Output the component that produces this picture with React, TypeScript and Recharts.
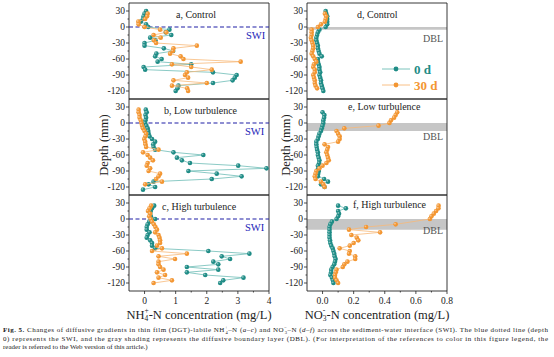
import React from "react";
import { ScatterChart, Scatter, XAxis, YAxis, ReferenceLine, ReferenceArea } from "recharts";

const SERIF = "'Liberation Serif', 'Times New Roman', serif";
const TEAL = "#1f8c86";
const TEAL_LINE = "#6dbdb6";
const ORANGE = "#f39632";
const ORANGE_LINE = "#f8b978";

// depth (mm) of each DGT slice
const depths = [30, 25, 20, 15, 10, 5, 0, -5, -10, -15, -20, -25, -30, -35, -40, -45, -50, -55, -60, -65, -70, -75, -80, -85, -90, -95, -100, -105, -110, -115, -120, -125];

// NH4+-N (mg/L)
const aNH0 = [0.05, 0.0, -0.03, -0.05, -0.12, 0.05, 0.12, 0.8, 0.68, 0.86, 0.18, 0.35, 0.0, 0.0, 0.62, 0.92, 0.38, 0.34, 0.55, 0.42, 1.5, -0.03, 0.02, 2.2, 2.96, 2.9, 2.83, 2.2, 1.09, 1.06, 1.0, null];
const aNH30 = [null, 0.1, 0.08, 0.02, -0.2, -0.19, 0.0, 0.5, 0.7, 0.29, 0.52, 0.3, 0.37, 1.68, 0.93, 0.91, 0.82, 1.16, 1.25, 3.09, 0.88, 1.5, 2.16, 1.36, 1.3, 1.4, 0.93, 2.0, 0.88, 1.37, 1.4, null];
const bNH0 = [null, 0.04, 0.07, 0.03, 0.05, 0.03, 0.02, 0.06, 0.1, 0.12, 0.13, 0.16, 0.24, 0.34, 0.28, 0.29, 0.34, 0.93, 1.89, 1.04, 1.2, 1.46, 3.01, 3.92, 1.41, 2.32, 3.12, 2.16, 0.29, 0.13, 0.34, -0.05];
const bNH30 = [null, -0.19, -0.19, -0.16, -0.16, -0.12, -0.1, -0.08, -0.05, 0.0, 0.05, 0.03, -0.01, 0.02, 0.03, 0.05, 0.45, -0.05, 0.1, 0.18, 0.27, 0.1, 0.07, 0.18, 0.13, 0.5, 0.45, 0.37, 0.56, 0.02, null, null];
const cNH0 = [null, 0.31, 0.24, 0.2, 0.18, 0.2, 0.34, 0.15, 0.1, 0.07, 0.07, 0.16, 0.1, 0.07, 0.18, 0.24, 0.24, 0.34, 2.05, 3.37, 2.48, 2.75, 2.21, 2.37, 1.36, 2.37, 1.36, 1.95, 3.18, 2.53, 2.43, null];
const cNH30 = [null, 0.21, 0.16, 0.11, 0.18, 0.15, 0.2, 0.24, 0.3, 0.35, 0.4, 0.34, 0.45, 0.48, 0.5, 0.5, 0.4, 0.56, 0.24, 1.36, 0.45, 0.98, 0.45, 0.45, 0.5, 0.61, 0.4, 0.66, 0.45, 0.88, 0.29, null];

// NO3--N (mg/L)
const dNO0 = [0.02, 0.024, 0.03, 0.03, 0.03, 0.03, 0.02, -0.02, -0.03, -0.035, -0.04, -0.04, -0.035, -0.03, -0.03, -0.025, -0.02, -0.005, -0.03, -0.03, -0.025, -0.02, -0.02, -0.015, -0.02, -0.015, -0.01, -0.01, -0.005, 0.0, 0.005, null];
const dNO30 = [null, 0.015, 0.024, 0.02, 0.015, -0.01, -0.03, -0.07, -0.07, -0.07, -0.075, -0.07, -0.065, -0.06, -0.06, -0.065, -0.07, -0.06, -0.05, -0.04, -0.055, -0.06, -0.05, -0.05, -0.06, -0.055, -0.05, -0.05, -0.045, -0.035, null, null];
const eNO0 = [null, null, 0.0, 0.012, 0.01, 0.005, 0.005, 0.0, -0.005, -0.01, -0.02, -0.025, -0.03, -0.04, -0.04, -0.038, -0.035, -0.03, -0.03, -0.025, -0.02, -0.022, -0.03, -0.028, -0.024, -0.028, -0.03, 0.01, 0.035, -0.01, 0.013, null];
const eNO30 = [null, null, 0.48, 0.47, 0.46, 0.44, 0.43, 0.36, 0.14, 0.09, 0.1, 0.11, 0.11, 0.1, 0.013, 0.035, 0.03, 0.024, 0.03, 0.035, 0.04, 0.025, 0.0, -0.02, -0.04, -0.045, -0.05, -0.045, -0.01, 0.005, 0.013, null];
const fNO0 = [null, 0.1, 0.15, 0.1, 0.106, 0.1, 0.09, 0.06, 0.05, 0.045, 0.045, 0.045, 0.045, 0.045, 0.048, 0.05, 0.056, 0.065, 0.07, 0.075, 0.078, 0.084, 0.08, 0.075, 0.065, 0.056, 0.055, 0.05, 0.06, 0.067, 0.07, null];
const fNO30 = [null, 0.746, 0.745, 0.73, 0.715, 0.7, 0.69, null, 0.47, 0.28, 0.17, 0.37, 0.185, 0.22, 0.23, 0.2, 0.175, 0.11, 0.175, 0.17, 0.21, 0.21, 0.16, 0.14, 0.13, 0.09, 0.085, 0.08, 0.08, 0.09, 0.1, null];

const yTicks = [-120, -105, -90, -75, -60, -45, -30, -15, 0, 15, 30];
const nhTicks = [0, 0.5, 1, 1.5, 2, 2.5, 3, 3.5, 4];
const nhMajor = [0, 1, 2, 3, 4];
const noTicks = [0, 0.1, 0.2, 0.3, 0.4, 0.5, 0.6, 0.7, 0.8];
const noMajor = [0, 0.2, 0.4, 0.6, 0.8];

const toPoints = (vals: (number | null)[]) =>
  depths.map((d, i) => ({ x: vals[i], y: d })).filter((p) => p.x !== null);

const dot = (color: string) => (p: any) => (
  <g>
    <circle cx={p.cx} cy={p.cy} r={2.3} fill={color} />
    <circle cx={p.cx - 0.7} cy={p.cy - 0.7} r={0.9} fill="#fff" opacity={0.45} />
  </g>
);

const YTick = (p: any) => {
  const v = p.payload.value;
  const major = v % 30 === 0;
  return (
    <g>
      <line x1={p.x - (major ? 3 : 1.5)} x2={p.x} y1={p.y} y2={p.y} stroke="#222" strokeWidth={0.8} />
      {major && (
        <text x={p.x - 4} y={p.y + 3.3} textAnchor="end" fontSize={9.5} fontFamily={SERIF} fill="#222">
          {v}
        </text>
      )}
    </g>
  );
};

type PanelProps = {
  left: number;
  top: number;
  domain: [number, number];
  ticks: number[];
  major: number[];
  fmt: (v: number) => string;
  s0: (number | null)[];
  s30: (number | null)[];
  labels?: boolean;
  swi?: boolean;
  dbl?: number;
};

function Panel({ left, top, domain, ticks, major, fmt, s0, s30, labels, swi, dbl }: PanelProps) {
  const xTick = (p: any) => {
    const v = p.payload.value;
    const isMajor = major.some((m) => Math.abs(m - v) < 1e-6);
    return (
      <g>
        <line x1={p.x} x2={p.x} y1={p.y} y2={p.y + (isMajor ? 3 : 1.5)} stroke="#222" strokeWidth={0.8} />
        {labels && isMajor && (
          <text x={p.x} y={p.y + 13} textAnchor="middle" fontSize={9.5} fontFamily={SERIF} fill="#222">
            {fmt(v)}
          </text>
        )}
      </g>
    );
  };
  return (
    <div style={{ position: "absolute", left, top }}>
      <ScatterChart width={170} height={96 + (labels ? 18 : 0)} margin={{ top: 0, right: 0, bottom: 0, left: 0 }}>
        <XAxis
          type="number"
          dataKey="x"
          domain={domain}
          ticks={ticks}
          interval={0}
          allowDataOverflow
          axisLine={false}
          tickSize={0}
          tickMargin={0}
          height={labels ? 18 : 0}
          tick={xTick}
        />
        <YAxis
          type="number"
          dataKey="y"
          domain={[-135, 45]}
          ticks={yTicks}
          interval={0}
          allowDataOverflow
          axisLine={false}
          tickSize={0}
          tickMargin={0}
          width={30}
          tick={YTick}
        />
        {dbl !== undefined && (
          <ReferenceArea x1={domain[0]} x2={domain[1]} y1={dbl} y2={0} fill="#c6c6c6" fillOpacity={1} stroke="none" />
        )}
        {swi && <ReferenceLine y={0} stroke="#1f1fa6" strokeWidth={1.1} strokeDasharray="4 2.5" />}
        <Scatter
          data={toPoints(s0)}
          line={{ stroke: TEAL_LINE, strokeWidth: 0.8 }}
          lineType="joint"
          shape={dot(TEAL)}
          isAnimationActive={false}
        />
        <Scatter
          data={toPoints(s30)}
          line={{ stroke: ORANGE_LINE, strokeWidth: 0.8 }}
          lineType="joint"
          shape={dot(ORANGE)}
          isAnimationActive={false}
        />
        <ReferenceArea x1={domain[0]} x2={domain[1]} y1={-135} y2={45} fill="none" stroke="#222" strokeWidth={0.9} />
      </ScatterChart>
    </div>
  );
}

const txt = (left: number, top: number, text: string, extra: React.CSSProperties = {}) => (
  <div style={{ position: "absolute", left, top, fontFamily: SERIF, fontSize: 10, color: "#222", whiteSpace: "nowrap", lineHeight: 1, ...extra }}>
    {text}
  </div>
);

const stack = (sup: string, sub: string) => (
  <span style={{ display: "inline-block", verticalAlign: "-2px", fontSize: 7.5, lineHeight: "7.5px", textAlign: "left" }}>
    <span style={{ display: "block" }}>{sup}</span>
    <span style={{ display: "block" }}>{sub}</span>
  </span>
);

export default function App() {
  const nhFmt = (v: number) => String(v);
  const noFmt = (v: number) => v.toFixed(1);
  const depthStyle: React.CSSProperties = {
    position: "absolute",
    top: 145,
    transform: "translate(-50%,-50%) rotate(-90deg)",
    fontFamily: SERIF,
    fontSize: 12.5,
    whiteSpace: "nowrap",
    color: "#222",
  };
  const xTitle: React.CSSProperties = {
    position: "absolute",
    width: 200,
    top: 307,
    textAlign: "center",
    fontFamily: SERIF,
    fontSize: 12.5,
    color: "#222",
    whiteSpace: "nowrap",
  };
  return (
    <div style={{ position: "absolute", left: 0, top: 0, width: 554, height: 357, background: "#fff", overflow: "hidden" }}>
      <style>{`.recharts-surface{overflow:visible}`}</style>

      <Panel left={99} top={3} domain={[-0.5, 4]} ticks={nhTicks} major={nhMajor} fmt={nhFmt} s0={aNH0} s30={aNH30} swi />
      <Panel left={99} top={99} domain={[-0.5, 4]} ticks={nhTicks} major={nhMajor} fmt={nhFmt} s0={bNH0} s30={bNH30} swi />
      <Panel left={99} top={195} domain={[-0.5, 4]} ticks={nhTicks} major={nhMajor} fmt={nhFmt} s0={cNH0} s30={cNH30} swi labels />
      <Panel left={277} top={3} domain={[-0.1, 0.8]} ticks={noTicks} major={noMajor} fmt={noFmt} s0={dNO0} s30={dNO30} dbl={-5} />
      <Panel left={277} top={99} domain={[-0.1, 0.8]} ticks={noTicks} major={noMajor} fmt={noFmt} s0={eNO0} s30={eNO30} dbl={-15} />
      <Panel left={277} top={195} domain={[-0.1, 0.8]} ticks={noTicks} major={noMajor} fmt={noFmt} s0={fNO0} s30={fNO30} dbl={-20} labels />

      {txt(176, 10, "a, Control")}
      {txt(164, 106, "b, Low turbulence")}
      {txt(162, 202, "c, High turbulence")}
      {txt(357, 10, "d, Control")}
      {txt(348, 102, "e, Low turbulence")}
      {txt(353, 200, "f, High turbulence")}

      {txt(246, 31, "SWI", { color: "#2424b8", fontSize: 10.5 })}
      {txt(245, 127, "SWI", { color: "#2424b8", fontSize: 10.5 })}
      {txt(245, 223, "SWI", { color: "#2424b8", fontSize: 10.5 })}
      {txt(423, 34, "DBL", { color: "#555" })}
      {txt(423, 132, "DBL", { color: "#555" })}
      {txt(423, 226, "DBL", { color: "#555" })}

      <svg style={{ position: "absolute", left: 378, top: 60 }} width={36} height={32}>
        <line x1={4} x2={32} y1={9} y2={9} stroke={TEAL_LINE} strokeWidth={0.9} />
        <circle cx={18} cy={9} r={2.4} fill={TEAL} />
        <line x1={4} x2={32} y1={25} y2={25} stroke={ORANGE_LINE} strokeWidth={0.9} />
        <circle cx={18} cy={25} r={2.4} fill={ORANGE} />
      </svg>
      {txt(414, 63, "0 d", { color: TEAL, fontSize: 13, fontWeight: "bold" })}
      {txt(414, 79, "30 d", { color: ORANGE, fontSize: 13, fontWeight: "bold" })}

      <div style={{ ...depthStyle, left: 104 }}>Depth (mm)</div>
      <div style={{ ...depthStyle, left: 286 }}>Depth (mm)</div>

      <div style={{ ...xTitle, left: 99 }}>
        NH{stack("+", "4")}-N concentration (mg/L)
      </div>
      <div style={{ ...xTitle, left: 277 }}>
        NO{stack("-", "3")}-N concentration (mg/L)
      </div>

      <svg style={{ position: "absolute", left: 0, top: 320 }} width={554} height={37}>
        <text x={3} y={11.5} fontSize={7} fontFamily={SERIF} fill="#222" textLength={545} lengthAdjust="spacing">
          <tspan fontWeight="bold">Fig. 5.</tspan>
          {" Changes of diffusive gradients in thin film (DGT)-labile NH"}
          <tspan fontSize={4.5} dy={-2.5}>+</tspan>
          <tspan fontSize={4.5} dx={-2.5} dy={4.5}>4</tspan>
          <tspan dy={-2}>{"–N ("}</tspan>
          <tspan fontStyle="italic">a–c</tspan>
          {") and NO"}
          <tspan fontSize={4.5} dy={-2.5}>−</tspan>
          <tspan fontSize={4.5} dx={-2.5} dy={4.5}>3</tspan>
          <tspan dy={-2}>{"–N ("}</tspan>
          <tspan fontStyle="italic">d–f</tspan>
          {") across the sediment-water interface (SWI). The blue dotted line (depth"}
        </text>
        <text x={3} y={20.5} fontSize={7} fontFamily={SERIF} fill="#222" textLength={545} lengthAdjust="spacing">
          0) represents the SWI, and the gray shading represents the diffusive boundary layer (DBL). (For interpretation of the references to color in this figure legend, the
        </text>
        <text x={3} y={29} fontSize={7} fontFamily={SERIF} fill="#222">
          reader is referred to the Web version of this article.)
        </text>
      </svg>
    </div>
  );
}
